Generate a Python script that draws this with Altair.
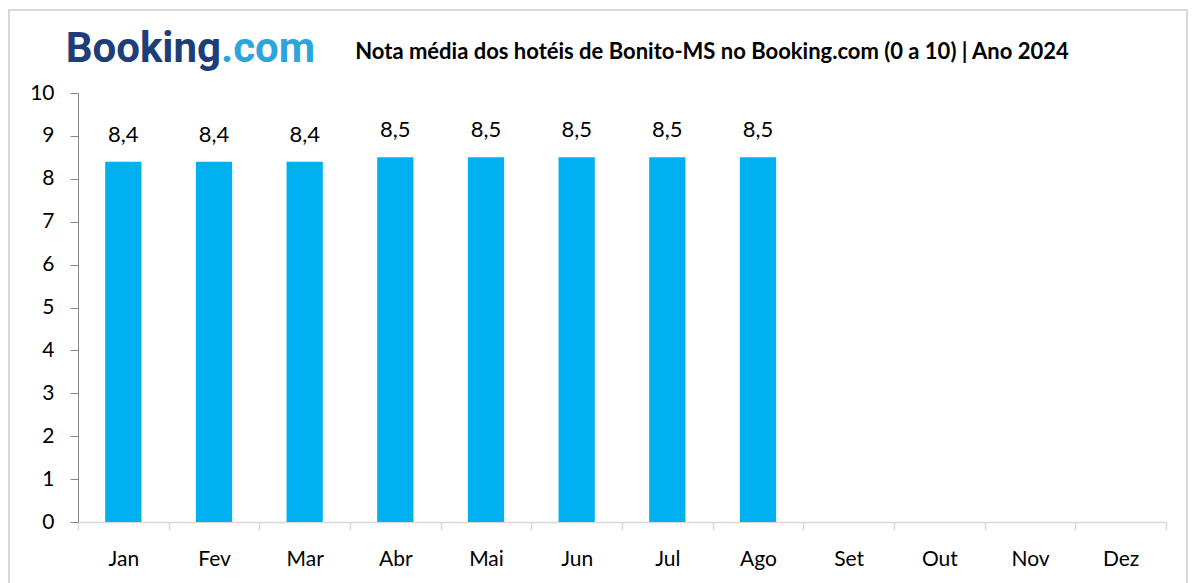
import altair as alt
import pandas as pd

months = ["Jan", "Fev", "Mar", "Abr", "Mai", "Jun", "Jul", "Ago", "Set", "Out", "Nov", "Dez"]
scores = [8.4, 8.4, 8.4, 8.5, 8.5, 8.5, 8.5, 8.5, None, None, None, None]
title_text = "Nota média dos hotéis de Bonito-MS no Booking.com (0 a 10) | Ano 2024"
logo_a = "Booking"
logo_b = ".com"

FONT = "Lato"
df = pd.DataFrame({"mes": months, "nota": scores})

W, H = 1088, 429

xenc = alt.X("mes:N", sort=months, title=None,
             scale=alt.Scale(domain=months, paddingInner=0, paddingOuter=0),
             axis=alt.Axis(labelAngle=0, labelFont=FONT, labelFontSize=21, labelColor="#000000",
                           labelPadding=18, domainColor="#d9d9d9", domainWidth=1.5,
                           tickColor="#d9d9d9", tickWidth=1.5, tickSize=8, tickBand="extent"))
yenc = alt.Y("nota:Q", title=None,
             scale=alt.Scale(domain=[0, 10], nice=False),
             axis=alt.Axis(values=list(range(0, 11)), labelFont=FONT, labelFontSize=21,
                           labelColor="#000000", labelPadding=16, domainColor="#888888",
                           tickColor="#888888", tickSize=8, grid=False))

base = alt.Chart(df)
bars = base.mark_bar(color="#00B0F0", width=alt.RelativeBandSize(0.4)).encode(x=xenc, y=yenc)
labels = base.transform_filter("isValid(datum.nota)").transform_calculate(
    lab="replace(format(datum.nota, '.1f'), '.', ',')"
).mark_text(font=FONT, fontSize=22, color="#000000", baseline="bottom", dy=-15).encode(
    x=alt.X("mes:N", sort=months), y="nota:Q", text="lab:N")

one = pd.DataFrame({"a": [logo_a], "b": [logo_b], "t": [title_text]})
frame = alt.Chart(one).mark_rect(fill=None, stroke="#d9d9d9", strokeWidth=2).encode(
    x=alt.value(-69), x2=alt.value(1109), y=alt.value(-83), y2=alt.value(H + 80))
logo1 = alt.Chart(one).mark_text(font="Roboto", fontWeight="bold", fontSize=42, color="#1D3E78",
                                 align="right", baseline="alphabetic").encode(
    text="a:N", x=alt.value(143), y=alt.value(-31))
logo2 = alt.Chart(one).mark_text(font="Roboto", fontWeight="bold", fontSize=42, color="#2CA4DC",
                                 align="left", baseline="alphabetic").encode(
    text="b:N", x=alt.value(143), y=alt.value(-31))
ttl = alt.Chart(one).mark_text(font=FONT, fontWeight="bold", fontSize=22, color="#000000",
                               align="center", baseline="alphabetic").encode(
    text="t:N", x=alt.value(634), y=alt.value(-34))

chart = alt.layer(frame, bars, labels, logo1, logo2, ttl).properties(
    width=W, height=H,
    background="white",
    autosize=alt.AutoSizeParams(type="none"),
    padding={"left": 70, "top": 85, "right": 23, "bottom": 61},
).configure_view(stroke="transparent", strokeWidth=0)

chart.save("out.html", embed_options={"renderer": "svg", "actions": False})
